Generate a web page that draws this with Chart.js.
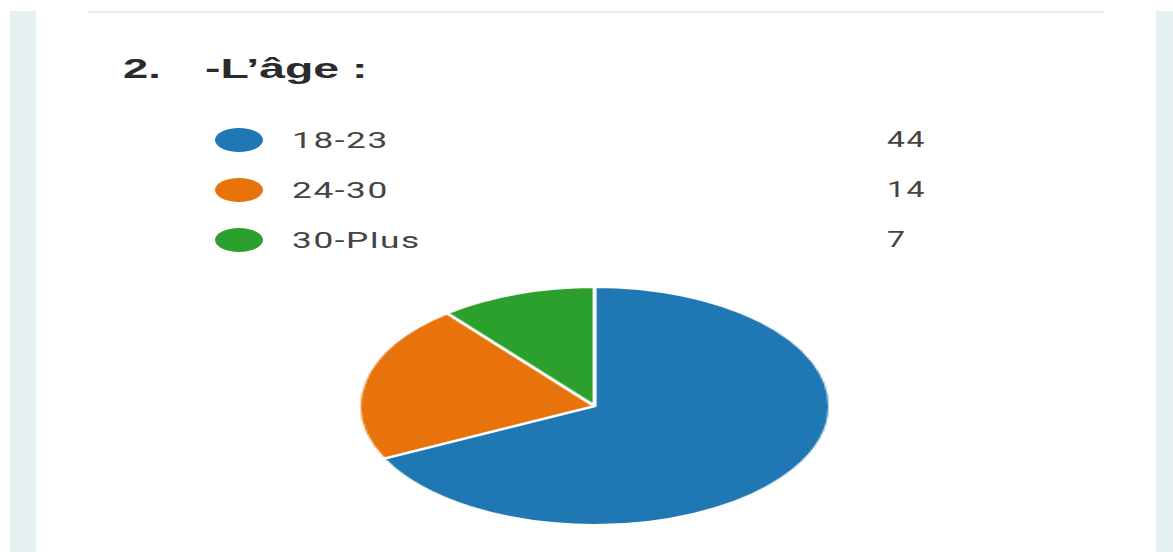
<!DOCTYPE html>
<html>
<head>
<meta charset="utf-8">
<script src="https://cdn.jsdelivr.net/npm/chart.js@4/dist/chart.umd.min.js"></script>
<style>
  html, body { margin: 0; padding: 0; background: #fff; }
  body { width: 1173px; height: 552px; position: relative; overflow: hidden; }
  .strip { position: absolute; top: 11px; bottom: 0; background: #e6eff2; }
  .rule { position: absolute; top: 11px; left: 88px; width: 1016px; height: 2px; background: #ebebeb; }
  .txt { position: absolute; white-space: pre; transform-origin: 0 100%; color: #333; }
  .title { font-family: "Liberation Sans", Arial, sans-serif; font-weight: bold; font-size: 27px; color: #2b2b2b; }
  .lbl { font-family: Roboto, "Noto Sans", sans-serif; font-size: 22px; color: #444; letter-spacing: 1px; }
  .dot { position: absolute; width: 48px; height: 24px; border-radius: 50%; }
  #wrap { position: absolute; left: 357px; top: 286px; width: 240px; height: 240px;
          transform: scaleX(1.98); transform-origin: 0 0; }
</style>
</head>
<body>
<div class="strip" style="left:10px;width:26px"></div>
<div class="strip" style="left:1156px;width:17px"></div>
<div class="rule"></div>
<div id="texts"></div>
<div id="wrap"><canvas id="pie" width="240" height="240"></canvas></div>
<script>
var titleNum = '2.'
var titleText = '-L’âge :'
var categories = ['18-23', '24-30', '30-Plus']
var counts = [44, 14, 7]
var colors = ['#1f77b4', '#e8730a', '#2ca02c']

// text layer: baseline y, left x, horizontal stretch
var box = document.getElementById('texts')
function put(str, cls, x, baseline, sx) {
  var el = document.createElement('div')
  el.className = 'txt ' + cls
  el.textContent = str
  box.appendChild(el)
  var h = el.offsetHeight
  // place so the alphabetic baseline lands roughly on `baseline`
  var size = parseFloat(getComputedStyle(el).fontSize)
  el.style.left = x + 'px'
  el.style.top = (baseline - h + (h - size) / 2 + size * 0.22) + 'px'
  el.style.transform = 'scaleX(' + sx + ')'
  return el
}

put(titleNum, 'title', 123, 77, 1.68)
put(titleText, 'title', 205, 77, 1.72)

var rowY = [140, 190, 240]
categories.forEach(function(c, i) {
  var d = document.createElement('div')
  d.className = 'dot'
  d.style.left = '215px'
  d.style.top = (rowY[i] - 12) + 'px'
  d.style.background = colors[i]
  box.appendChild(d)
  put(c, 'lbl', 292, rowY[i] + 7, 1.6)
  put(String(counts[i]), 'lbl', 887, rowY[i] + 6, 1.45)
})

new Chart(document.getElementById('pie').getContext('2d'), {
  type: 'pie',
  data: {
    labels: categories,
    datasets: [{
      data: counts,
      backgroundColor: colors,
      borderColor: '#ffffff',
      borderWidth: 2
    }]
  },
  options: {
    responsive: false,
    animation: false,
    layout: { padding: 0 },
    plugins: {
      legend: { display: false },
      tooltip: { enabled: false }
    }
  }
})
</script>
</body>
</html>
